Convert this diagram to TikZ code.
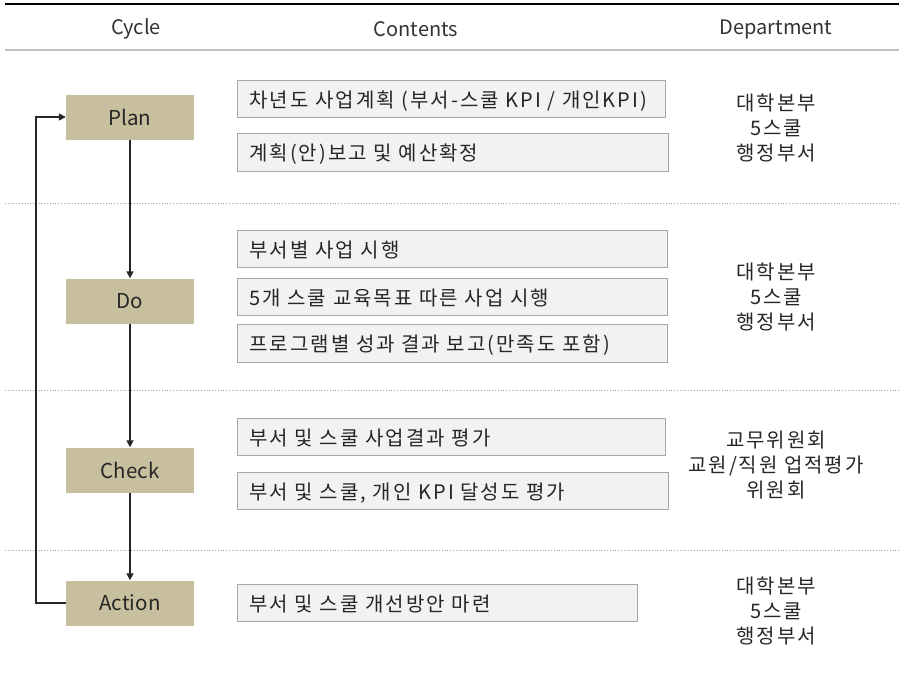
\documentclass[tikz,border=0pt]{standalone}
\usepackage{fontspec}
\setmainfont{Noto Sans CJK KR}
\newfontfamily\kospaced[LetterSpace=10]{Noto Sans CJK KR}
\usetikzlibrary{arrows.meta}
\definecolor{tan}{HTML}{C7BF9D}
\definecolor{boxfill}{HTML}{F2F2F2}
\definecolor{boxline}{HTML}{A6A6A6}
\tikzset{
  cyc/.style={fill=tan, draw=none, minimum width=128pt, minimum height=45pt, inner sep=0pt, font=\fontsize{20.5}{24}\selectfont, text=black!85},
  cbox/.style={fill=boxfill, draw=boxline, line width=0.8pt, anchor=north west, inner xsep=12pt, inner ysep=0pt, text depth=0pt, align=left, font=\kospaced\fontsize{20}{24}\selectfont, text=black!85},
  dept/.style={align=center, font=\kospaced\fontsize{20}{25}\selectfont, text=black!85},
  head/.style={font=\fontsize{20}{24}\selectfont, text=black!80},
  sep/.style={draw=black!35, line width=0.8pt, dotted},
  flow/.style={draw=black!85, line width=1.6pt, -{Triangle[length=7pt,width=7pt]}}
}
\begin{document}
\begin{tikzpicture}[x=1pt,y=-1pt]
\useasboundingbox (0,0) rectangle (899,680);
% top line and separators
\draw[black, line width=1.6pt] (5,4) -- (899,4);
\node[head] (h1) at (136,29) {Cycle};
\node[head] (h2) at (416,29) {Contents};
\node[head] (h3) at (776,29) {Department};
\draw[black!25, line width=1.6pt] (5,50) -- (899,50);
\draw[sep] (5,203) -- (899,203);
\draw[sep] (5,390) -- (899,390);
\draw[sep] (5,550) -- (899,550);
% cycle boxes
\node[cyc] (plan) at (130,117) {Plan};
\node[cyc] (do) at (130,301) {Do};
\node[cyc] (check) at (130,470) {Check};
\node[cyc] (action) at (130,603) {Action};
\draw[flow] (plan) -- (do);
\draw[flow] (do) -- (check);
\draw[flow] (check) -- (action);
\coordinate (lb) at (36,603);
\coordinate (lt) at (36,117);
\draw[flow] (action.west) -- (lb) -- (lt) -- (plan.west);
% content boxes
\node[cbox, minimum width=428pt, minimum height=37pt, text width=404pt] (p1) at (237,80) {차년도 사업계획 (부서-스쿨 KPI / 개인KPI)};
\node[cbox, minimum width=431pt, minimum height=38pt, text width=407pt] (p2) at (237,133) {계획(안)보고 및 예산확정};
\node[cbox, minimum width=430pt, minimum height=37pt, text width=406pt] (d1) at (237,230) {부서별 사업 시행};
\node[cbox, minimum width=430pt, minimum height=37pt, text width=406pt] (d2) at (237,278) {5개 스쿨 교육목표 따른 사업 시행};
\node[cbox, minimum width=430pt, minimum height=38pt, text width=406pt] (d3) at (237,324) {프로그램별 성과 결과 보고(만족도 포함)};
\node[cbox, minimum width=428pt, minimum height=37pt, text width=404pt] (c1) at (237,418) {부서 및 스쿨 사업결과 평가};
\node[cbox, minimum width=431pt, minimum height=37pt, text width=407pt] (c2) at (237,472) {부서 및 스쿨, 개인 KPI 달성도 평가};
\node[cbox, minimum width=400pt, minimum height=37pt, text width=376pt] (a1) at (237,584) {부서 및 스쿨 개선방안 마련};
% departments
\node[dept] (dp) at (776,128) {대학본부\\5스쿨\\행정부서};
\node[dept] (dd) at (776,297) {대학본부\\5스쿨\\행정부서};
\node[dept] (dc) at (776,465) {교무위원회\\교원/직원 업적평가\\위원회};
\node[dept] (da) at (776,611) {대학본부\\5스쿨\\행정부서};
\end{tikzpicture}
\end{document}
